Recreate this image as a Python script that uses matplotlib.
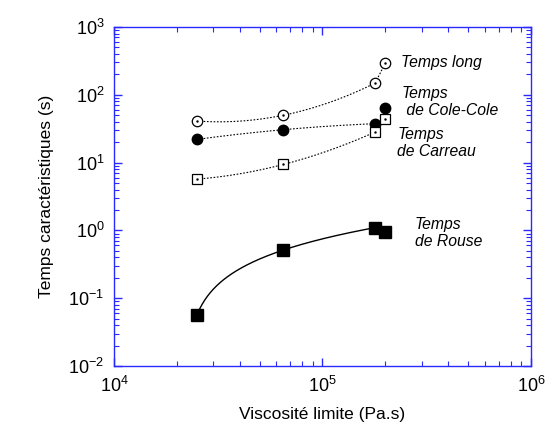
import numpy as np
import matplotlib.pyplot as plt
from matplotlib.ticker import LogLocator, NullFormatter

plt.rcParams['font.family'] = ['Liberation Sans', 'DejaVu Sans']

# Viscosité limite (Pa.s)
visc = [2.5e4, 6.5e4, 1.79e5, 2.0e5]

# Temps caractéristiques (s)
t_long = [41, 50, 149, 293]
t_colecole = [22, 30.6, 37.5, 64.5]
t_carreau = [5.7, 9.4, 28.3, 44.4]
t_rouse = [0.0565, 0.514, 1.10, 0.957]

AXIS_BLUE = '#2a2aff'


def smooth_curve(x, y, deg=2, log_y=True, npts=200):
    # polynomial fit against log10(x), evaluated over the span of x
    lx = np.log10(x)
    yy = np.log10(y) if log_y else np.asarray(y, float)
    coef = np.polyfit(lx, yy, deg)
    xs = np.linspace(lx.min(), lx.max(), npts)
    ys = np.polyval(coef, xs)
    return 10 ** xs, (10 ** ys if log_y else ys)


fig = plt.figure(figsize=(5.47, 4.25), dpi=100)
ax = fig.add_axes([0.2084, 0.1388, 0.7623, 0.7977])

v = np.array(visc)
dotted = dict(ls=(0, (1.5, 1.5)), color='black', lw=0.8)

# fitted curves
xs, ys = smooth_curve(v[:3], t_long[:3])
ax.plot(xs, ys, **dotted)
ax.plot(visc[2:], t_long[2:], **dotted)
xs, ys = smooth_curve(v[:3], t_colecole[:3])
ax.plot(xs, ys, **dotted)
xs, ys = smooth_curve(v[:3], t_carreau[:3])
ax.plot(xs, ys, **dotted)
xs, ys = smooth_curve(v[:3], t_rouse[:3], log_y=False)
ax.plot(xs, ys, ls='-', color='black', lw=1.0)

# data points
ax.plot(visc, t_long, 'o', ms=7.5, mfc='white', mec='black', mew=0.9)
ax.plot(visc, t_long, '.', ms=1.5, color='black')
ax.plot(visc, t_colecole, 'o', ms=7.5, mfc='black', mec='black')
ax.plot(visc, t_carreau, 's', ms=7.5, mfc='white', mec='black', mew=0.9)
ax.plot(visc, t_carreau, '.', ms=1.5, color='black')
ax.plot(visc, t_rouse, 's', ms=8, mfc='black', mec='black')

ax.set_xscale('log')
ax.set_yscale('log')
ax.set_xlim(1e4, 1e6)
ax.set_ylim(1e-2, 1e3)

ax.xaxis.set_major_locator(LogLocator(base=10, numticks=10))
ax.yaxis.set_major_locator(LogLocator(base=10, numticks=10))
ax.xaxis.set_minor_locator(LogLocator(base=10, subs=np.arange(2, 10), numticks=20))
ax.yaxis.set_minor_locator(LogLocator(base=10, subs=np.arange(2, 10), numticks=20))
ax.xaxis.set_minor_formatter(NullFormatter())
ax.yaxis.set_minor_formatter(NullFormatter())

for sp in ax.spines.values():
    sp.set_color(AXIS_BLUE)
    sp.set_linewidth(1.0)
ax.tick_params(which='both', direction='in', top=True, right=True,
               color=AXIS_BLUE, labelsize=13, labelcolor='black')
ax.tick_params(which='major', length=6, width=1.0, pad=7)
ax.tick_params(which='minor', length=3.5, width=0.8)

ax.set_xlabel('Viscosité limite (Pa.s)', fontsize=12.5, labelpad=8)
ax.set_ylabel('Temps caractéristiques (s)', fontsize=12.5, labelpad=10)

kw = dict(transform=ax.transAxes, fontsize=11.3, style='italic',
          va='center', ha='left', linespacing=1.2)
ax.text(0.688, 0.894, 'Temps long', **kw)
ax.text(0.690, 0.779, 'Temps\n de Cole-Cole', **kw)
ax.text(0.679, 0.658, 'Temps\nde Carreau', **kw)
ax.text(0.722, 0.392, 'Temps\nde Rouse', **kw)

fig.savefig('out.png', dpi=100)
